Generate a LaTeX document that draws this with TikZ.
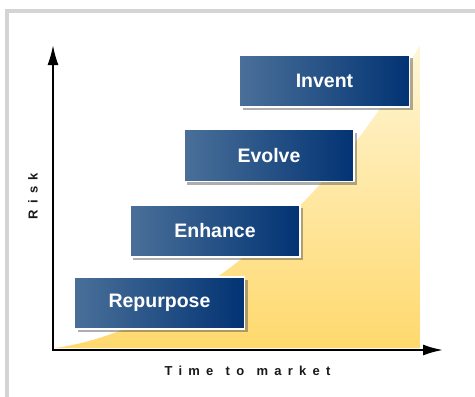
\documentclass[tikz,border=0pt]{standalone}
\usepackage{fontspec}
\setmainfont{Liberation Sans}
\newfontfamily\spacedfont[LetterSpace=48,WordSpace=1.25]{Liberation Sans}
\usetikzlibrary{arrows.meta,shadows}
\definecolor{framegray}{HTML}{D4D4D4}
\definecolor{boxL}{HTML}{4A7099}
\definecolor{boxR}{HTML}{023373}
\definecolor{yelTop}{HTML}{FFF6D6}
\definecolor{yelBot}{HTML}{FFD96E}
\tikzset{
  stepbox/.style={draw=white, line width=1.3pt, left color=boxL, right color=boxR,
    minimum width=170pt, minimum height=52pt, inner sep=0pt,
    text=white, font=\bfseries\fontsize{19.5}{22}\selectfont,
    drop shadow={shadow xshift=3pt, shadow yshift=-3pt, opacity=0.45, fill=black!70}},
  axis/.style={line width=2pt, -{Latex[length=20pt,width=11pt]}},
  axlabel/.style={font=\spacedfont\bfseries\fontsize{13}{15}\selectfont, text=black!90}
}
\begin{document}
\begin{tikzpicture}[x=1pt,y=-1pt]
\useasboundingbox (0,0) rectangle (475,397);
\fill[white] (0,0) rectangle (475,397);
% frame
\fill[framegray] (5,9) rectangle (475,12.5);
\fill[framegray] (5,9) rectangle (8.5,397);
% yellow area
\shade[top color=yelTop, bottom color=yelBot]
  (55,348) .. controls (185,330) and (330,205) .. (420,45) -- (420,348) -- cycle;
% axes
\coordinate (O) at (53,350);
\coordinate (ytip) at (53,45);
\coordinate (xtip) at (443,350);
\draw[axis] ([yshift=1pt]O) -- (ytip);
\draw[axis] ([xshift=-1pt]O) -- (xtip);
% boxes
\node[stepbox] (repurpose) at (159.5,303) {Repurpose};
\node[stepbox] (enhance) at (215,231) {Enhance};
\node[stepbox] (evolve) at (269,155.5) {Evolve};
\node[stepbox] (invent) at (324.5,81) {Invent};
% labels
\node[axlabel] (xlabel) at (247.5,370.5) {Time to market};
\node[axlabel, rotate=90] (ylabel) at (33,196) {Risk};
\end{tikzpicture}
\end{document}
